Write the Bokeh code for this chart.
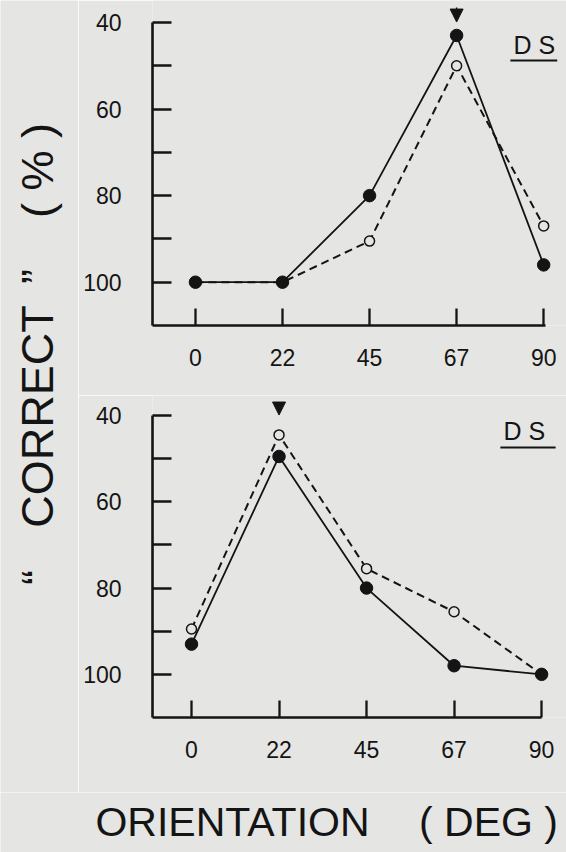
import math
from bokeh.plotting import figure
from bokeh.layouts import row, column
from bokeh.models import Range1d, FixedTicker, Label, Arrow, NormalHead
from bokeh.embed import file_html
from bokeh.resources import INLINE

# ---- data ----
orientation = [0, 22.5, 45, 67.5, 90]
orientation_labels = ["0", "22", "45", "67", "90"]
y_ticks = [40, 50, 60, 70, 80, 90, 100]
y_tick_labels = ["40", "", "60", "", "80", "", "100"]

top_filled = [100, 100, 80, 43, 96]
top_open = [100, 100, 90.5, 50, 87]
bottom_filled = [93, 49.5, 80, 98, 100]
bottom_open = [89.5, 44.5, 75.5, 85.5, 100]
top_peak = 67.5
bottom_peak = 22.5

panel_label = "D S"
x_title_parts = ["ORIENTATION", "( DEG )"]
y_title_parts = ["\u201c", "CORRECT", "\u201d", "( % )"]

BG = "#e5e5e3"
INK = "#141414"
FONT = "Liberation Sans"


def blank_figure(width, height, xr, yr):
    f = figure(width=width, height=height, output_backend="svg", toolbar_location=None,
               x_range=Range1d(*xr), y_range=Range1d(*yr),
               x_axis_type=None, y_axis_type=None,
               min_border=0, min_border_left=0, min_border_right=0,
               min_border_top=0, min_border_bottom=0)
    f.background_fill_color = BG
    f.border_fill_color = BG
    f.outline_line_color = None
    f.grid.visible = False
    return f


def make_panel(height, border_bottom, x_start, x_end, y_top,
               filled, opened, peak, ds_x, ds_y, ul_y, ul_x0, ul_x1, axis_end):
    p = figure(width=488, height=height, output_backend="svg", toolbar_location=None,
               x_range=Range1d(x_start, x_end), y_range=Range1d(110, y_top),
               min_border_left=74, min_border_right=0,
               min_border_top=0, min_border_bottom=border_bottom)
    p.background_fill_color = BG
    p.border_fill_color = BG
    p.outline_line_color = None
    p.grid.visible = False

    p.line(orientation, opened, line_color=INK, line_width=2.0, line_dash="8 5")
    p.line(orientation, filled, line_color=INK, line_width=1.8)
    p.scatter(orientation, opened, size=10, marker="circle", fill_color=BG,
              line_color=INK, line_width=1.5)
    p.scatter(orientation, filled, size=12.5, marker="circle", fill_color=INK,
              line_color=INK)

    xa = p.xaxis[0]
    xa.ticker = FixedTicker(ticks=orientation)
    xa.major_label_overrides = {v: s for v, s in zip(orientation, orientation_labels)}
    xa.bounds = (x_start, axis_end)
    ya = p.yaxis[0]
    ya.ticker = FixedTicker(ticks=y_ticks)
    ya.major_label_overrides = {v: s for v, s in zip(y_ticks, y_tick_labels)}
    ya.bounds = (40, 110)
    for ax in (xa, ya):
        ax.axis_line_color = INK
        ax.axis_line_width = 2.6
        ax.major_tick_line_color = INK
        ax.major_tick_line_width = 2.3
        ax.minor_tick_line_color = None
        ax.major_tick_out = 0
        ax.major_label_text_font = FONT
        ax.major_label_text_font_size = "23px"
        ax.major_label_text_color = INK
    xa.major_tick_in = 17
    xa.major_label_standoff = 23
    ya.major_tick_in = 19
    ya.major_label_standoff = 31

    p.add_layout(Arrow(end=NormalHead(size=13, fill_color=INK, line_color=INK),
                       x_start=peak, x_end=peak, y_start=y_top + 1.6, y_end=39.9,
                       line_color=INK, line_width=1.5))
    p.add_layout(Label(x=ds_x, y=ds_y, text=panel_label, text_font=FONT,
                       text_font_size="25px", text_color=INK,
                       text_align="left", text_baseline="middle"))
    p.segment(x0=[ul_x0], y0=[ul_y], x1=[ul_x1], y1=[ul_y], line_color=INK, line_width=2)
    return p


# top panel: page y 0-395 ; frame top at page 0, x-axis at page 325
top = make_panel(395, 70, -11.1, 95.9, 34.92, top_filled, top_open, top_peak,
                 82.2, 45.1, 48.8, 81.4, 93.5, 90.4)
# bottom panel: page y 395-792 ; x-axis at page 717
bottom = make_panel(397, 75, -10.03, 96.4, 35.37, bottom_filled, bottom_open,
                    bottom_peak, 80.2, 43.6, 47.4, 79.4, 93.6, 90.0)

# y title strip: page x 0-78, y 0-792
strip = blank_figure(78, 792, (0, 78), (792, 0))
for txt, cy in zip(y_title_parts, [577, 416, 276, 170]):
    strip.add_layout(Label(x=37, y=cy, text=txt, angle=math.pi / 2, text_font=FONT,
                           text_font_size="45px", text_color=INK,
                           text_align="center", text_baseline="middle"))

# x title strip: page x 0-566, y 792-852
xt = blank_figure(566, 60, (0, 566), (852, 792))
for txt, cx in zip(x_title_parts, [232, 488]):
    xt.add_layout(Label(x=cx, y=821, text=txt, text_font=FONT, text_font_size="41px",
                        text_color=INK, text_align="center", text_baseline="middle"))

layout = column(row(strip, column(top, bottom)), xt)
open("out.html", "w").write(file_html(layout, INLINE))
